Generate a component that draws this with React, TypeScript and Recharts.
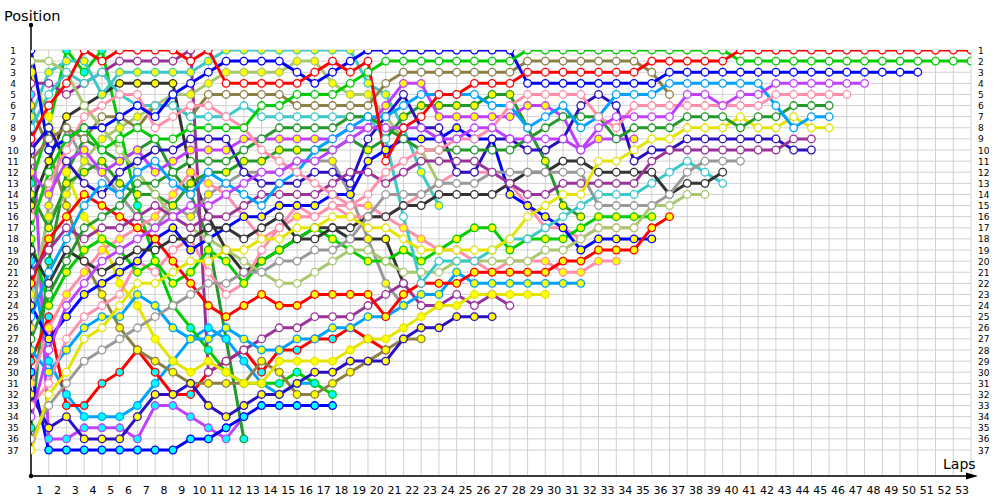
import { CartesianGrid, Line, LineChart, XAxis, YAxis } from 'recharts'

const LAP_TICKS = [
  1, 2, 3, 4, 5, 6, 7, 8, 9, 10, 11, 12, 13, 14, 15, 16, 17, 18, 19, 20, 21, 22, 23, 24, 25, 26, 27,
  28, 29, 30, 31, 32, 33, 34, 35, 36, 37, 38, 39, 40, 41, 42, 43, 44, 45, 46, 47, 48, 49, 50, 51, 52, 53,
]
const POS_TICKS = [
  1, 2, 3, 4, 5, 6, 7, 8, 9, 10, 11, 12, 13, 14, 15, 16, 17, 18, 19, 20, 21, 22, 23, 24, 25, 26, 27,
  28, 29, 30, 31, 32, 33, 34, 35, 36, 37,
]

// position per lap, index 0 = grid position; array ends on the last lap completed
const bluW = [1, 10, 9, 8, 8, 7, 6, 7, 5, 4, 3, 2, 2, 2, 2, 3, 4, 3, 2, 1, 1, 1, 1, 1, 1, 1, 1, 1, 4, 4, 4, 4, 4, 4, 4, 4, 3, 3, 3, 3, 3, 3, 3, 3, 3, 3, 3, 3, 3, 3, 3]
const redW = [9, 6, 4, 1, 2, 1, 1, 1, 1, 2, 1, 4, 4, 4, 4, 4, 3, 2, 3, 2, 11, 8, 7, 5, 5, 4, 4, 4, 3, 3, 3, 3, 3, 3, 3, 2, 2, 2, 2, 2, 1, 1, 1, 1, 1, 1, 1, 1, 1, 1, 1, 1, 1, 1]
const grnW = [17, 12, 9, 8, 10, 9, 8, 9, 9, 8, 8, 8, 8, 6, 6, 5, 5, 5, 4, 3, 2, 2, 2, 2, 2, 2, 2, 2, 1, 1, 1, 1, 1, 1, 1, 1, 1, 1, 1, 1, 2, 2, 2, 2, 2, 2, 2, 2, 2, 2, 2, 2, 2, 2]
const vioW = [34, 28, 24, 22, 20, 19, 18, 17, 16, 15, 15, 14, 13, 12, 12, 11, 11, 10, 9, 8, 8, 8, 8, 9, 9, 8, 8, 9, 9, 9, 9, 10, 8, 7, 7, 7, 7, 5, 5, 6, 5, 5, 4, 4, 4, 4, 4, 4]
const vioY = [12, 14, 11, 10, 12, 11, 10, 12, 11, 10, 10, 10, 9, 9, 9, 9, 9, 9, 8, 8, 6, 4, 4, 7, 7, 7, 7, 7, 6, 6, 7, 10, 9, 9, 9]
const skyW = [25, 21, 18, 15, 13, 14, 12, 11, 13, 14, 12, 13, 14, 15, 13, 12, 10, 9, 8, 7, 7, 6, 5, 5, 5, 5, 6, 6, 8, 7, 6, 8, 7, 5, 5, 5, 4, 4, 4, 4, 4, 4, 6, 8, 7, 7]
const pnkW = [16, 13, 10, 7, 6, 5, 5, 8, 7, 6, 6, 7, 8, 10, 11, 12, 13, 14, 15, 14, 12, 11, 10, 10, 9, 9, 8, 6, 5, 5, 5, 5, 7, 8, 6, 6, 6, 6, 6, 6, 6, 6, 5, 5, 5, 5, 5]
const dgrW = [27, 23, 20, 17, 16, 15, 13, 13, 12, 11, 11, 11, 10, 9, 8, 8, 8, 8, 7, 7, 8, 9, 10, 10, 10, 10, 10, 10, 9, 8, 7, 7, 7, 9, 8, 8, 8, 7, 7, 7, 8, 7, 7, 6, 6, 6]
const dgrY = [14, 17, 13, 12, 11, 13, 14, 14, 15, 13, 12, 12, 11, 11, 10, 10, 10, 10, 9, 10, 9, 7, 6, 6, 6, 6, 5, 5, 8, 11, 15, 16]
const yelW = [37, 32, 30, 27, 26, 24, 22, 22, 21, 20, 20, 19, 19, 18, 18, 17, 17, 16, 16, 17, 17, 18, 19, 19, 19, 19, 19, 18, 16, 15, 14, 14, 11, 11, 10, 9, 9, 8, 8, 8, 7, 8, 8, 7, 8, 8]
const navW = [10, 8, 11, 13, 14, 12, 11, 10, 10, 9, 9, 9, 12, 13, 13, 13, 12, 12, 13, 9, 7, 5, 8, 8, 12, 12, 9, 9, 10, 10, 9, 6, 5, 6, 11, 10, 10, 9, 9, 9, 9, 9, 9, 10, 10]
const purW = [4, 4, 5, 4, 3, 2, 2, 2, 2, 1, 30, 29, 28, 27, 26, 26, 25, 25, 25, 24, 23, 22, 24, 24, 23, 24, 23, 24]
const purW2 = [21, 19, 17, 18, 17, 17, 16, 15, 16, 17, 16, 16, 15, 14, 14, 14, 14, 13, 12, 12, 13, 12, 11, 11, 11, 11, 12, 13, 14, 14, 13, 13, 13, 13, 13, 11, 10, 10, 10, 10, 10, 10, 10, 9, 9]
const gryW = [36, 33, 31, 29, 28, 27, 26, 25, 24, 23, 22, 22, 21, 21, 20, 20, 19, 19, 18, 16, 14, 14, 14, 13, 13, 13, 12, 12, 12, 12, 12, 12, 15, 15, 15, 15, 14, 12, 11, 11, 11]
const blkW = [19, 22, 19, 20, 21, 20, 19, 19, 18, 18, 17, 17, 18, 17, 16, 18, 18, 17, 17, 16, 16, 15, 15, 14, 14, 14, 14, 13, 12, 12, 11, 11, 12, 12, 12, 12, 14, 13, 13, 12]
const trqW = [8, 5, 3, 4, 3, 5, 6, 6, 6, 7, 7, 7, 6, 7, 7, 7, 7, 7, 7, 7, 9, 16, 22, 20, 20, 20, 19, 18, 18, 17, 16, 15, 14, 14, 14, 13, 12, 11, 12, 13]
const trqY = [7, 3, 2, 2, 5, 3, 3, 3, 3, 3, 2, 1, 1, 1, 1, 1, 1, 1, 1, 4, 5, 8, 12, 15]
const lgrW = [2, 2, 3, 6, 8, 10, 12, 14, 16, 17, 18, 19, 20, 21, 22, 22, 21, 20, 19, 19, 20, 21, 21, 21, 20, 20, 20, 20, 20, 19, 19, 18, 17, 17, 17, 15, 15, 14, 14]
const lgrY = [23, 16, 14, 11, 9, 8, 7, 6, 5, 5, 4, 3, 3, 3, 3, 2, 2, 4, 5, 5, 7, 9, 10, 13]
const olvW = [11, 9, 8, 9, 7, 7, 8, 6, 6, 7, 5, 5, 5, 5, 5, 6, 6, 6, 6, 6, 4, 3, 3, 3, 3, 3, 3, 3, 2, 2, 2, 2, 2, 2, 2, 3, 5]
const grnY = [18, 24, 21, 19, 18, 19, 21, 20, 22, 21, 19, 20, 22, 20, 19, 18, 17, 18, 19, 20, 20, 19, 20, 19, 18, 17, 17, 19, 18, 18, 18, 17, 16, 16, 16, 16]
const bluY = [24, 27, 25, 23, 22, 21, 20, 18, 17, 19, 18, 17, 16, 16, 15, 15, 15, 14, 14, 11, 10, 9, 9, 9, 8, 9, 9, 14, 15, 16, 17, 19, 18, 18, 18, 18]
const redY = [22, 18, 16, 14, 15, 16, 17, 18, 20, 22, 24, 25, 24, 23, 24, 24, 23, 23, 23, 23, 25, 23, 22, 22, 22, 21, 21, 21, 21, 21, 20, 20, 19, 19, 19, 17, 16]
const pnkY = [31, 26, 23, 21, 19, 18, 17, 16, 14, 12, 13, 14, 16, 18, 17, 16, 16, 15, 15, 15, 16, 17, 18, 19, 19, 20, 21, 20, 20, 20, 21, 21, 20, 20]
const skyY = [28, 30, 28, 26, 25, 25, 23, 24, 26, 27, 27, 26, 27, 28, 28, 27, 27, 26, 26, 25, 25, 24, 23, 23, 21, 22, 22, 22, 22, 22, 22, 22]
const yelY = [3, 7, 12, 16, 18, 22, 24, 27, 29, 30, 29, 30, 31, 31, 29, 29, 29, 29, 28, 27, 27, 26, 25, 24, 24, 23, 23, 23, 23, 23]
const navY = [32, 35, 34, 36, 36, 36, 34, 32, 32, 31, 33, 34, 33, 32, 32, 31, 30, 30, 29, 29, 29, 27, 26, 26, 25, 25, 25]
const blkY = [15, 11, 7, 6, 5, 4, 4, 4, 4, 12, 16, 19, 21, 20, 19, 18, 17, 17, 18, 18, 18, 22]
const bluC = [30, 37, 37, 37, 37, 37, 37, 37, 37, 36, 36, 35, 34, 33, 33, 33, 33, 33]
const vioC = [5, 36, 36, 35, 35, 35, 36, 33, 33, 34, 35, 36, 34]
const grnC = [13, 8, 1, 3, 1, 8, 15, 20, 24, 26, 28, 30, 31, 31, 31, 30, 31, 32]
const dgrC = [35, 20, 12, 9, 10, 11, 10, 9, 12, 14, 18, 27, 36]
const olvY = [6, 10, 15, 20, 23, 26, 28, 29, 30, 31, 31, 31, 31, 29, 30, 32, 32, 31, 30, 29, 28, 27, 27]
const redC = [29, 25, 33, 33, 31, 30, 28, 30, 32, 32, 30, 29, 28, 30, 28, 28, 27, 27, 26, 27, 28]
const skyC = [20, 29, 32, 34, 34, 34, 33, 31, 29, 27, 26, 27, 29, 31, 32, 31, 31]
const gryY = [26, 15, 8, 11, 12, 14, 16, 17, 15, 16, 14, 13, 12, 12, 12, 11, 11, 11, 14, 18, 22, 24]
const pnkW2 = [33, 31, 27, 25, 24, 23, 20, 21, 19, 18, 21, 23, 22, 19, 17, 15, 16, 15, 16, 16, 16, 15, 14, 13, 12, 12, 12, 13, 15, 17, 17, 18, 17, 17, 17]

const C = {
  red: '#ff0000',
  green: '#00cc00',
  blue: '#0000ff',
  navy: '#2a10c0',
  violet: '#c040ff',
  purple: '#993399',
  olive: '#8c8048',
  pink: '#ff8fab',
  sky: '#00a2ff',
  teal: '#3cc8c8',
  yellow: '#e4e400',
  pale: '#a8c870',
  dgreen: '#22992a',
  black: '#333333',
  gray: '#999999',
}
const W = '#ffffff'
const Y = '#ffff00'
const CY = '#00ffff'

// drawn back to front
const SERIES = [
  { key: 'vioC', color: C.violet, fill: CY, data: vioC },
  { key: 'dgrC', color: C.dgreen, fill: CY, data: dgrC },
  { key: 'skyC', color: C.sky, fill: CY, data: skyC },
  { key: 'bluC', color: C.blue, fill: CY, data: bluC },
  { key: 'grnC', color: C.green, fill: CY, data: grnC },
  { key: 'redC', color: C.red, fill: CY, data: redC },
  { key: 'olvY', color: C.olive, fill: Y, data: olvY },
  { key: 'blkY', color: C.black, fill: Y, data: blkY },
  { key: 'gryY', color: C.gray, fill: Y, data: gryY },
  { key: 'trqY', color: C.teal, fill: Y, data: trqY },
  { key: 'lgrY', color: C.pale, fill: Y, data: lgrY },
  { key: 'navY', color: C.navy, fill: Y, data: navY },
  { key: 'purW', color: C.purple, fill: W, data: purW },
  { key: 'yelY', color: C.yellow, fill: Y, data: yelY },
  { key: 'skyY', color: C.sky, fill: Y, data: skyY },
  { key: 'pnkY', color: C.pink, fill: Y, data: pnkY },
  { key: 'dgrY', color: C.dgreen, fill: Y, data: dgrY },
  { key: 'vioY', color: C.violet, fill: Y, data: vioY },
  { key: 'pnkW2', color: C.pink, fill: W, data: pnkW2 },
  { key: 'grnY', color: C.green, fill: Y, data: grnY },
  { key: 'bluY', color: C.blue, fill: Y, data: bluY },
  { key: 'redY', color: C.red, fill: Y, data: redY },
  { key: 'olvW', color: C.olive, fill: W, data: olvW },
  { key: 'lgrW', color: C.pale, fill: W, data: lgrW },
  { key: 'trqW', color: C.teal, fill: W, data: trqW },
  { key: 'blkW', color: C.black, fill: W, data: blkW },
  { key: 'gryW', color: C.gray, fill: W, data: gryW },
  { key: 'navW', color: C.navy, fill: W, data: navW },
  { key: 'purW2', color: C.purple, fill: W, data: purW2 },
  { key: 'yelW', color: C.yellow, fill: W, data: yelW },
  { key: 'dgrW', color: C.dgreen, fill: W, data: dgrW },
  { key: 'skyW', color: C.sky, fill: W, data: skyW },
  { key: 'pnkW', color: C.pink, fill: W, data: pnkW },
  { key: 'vioW', color: C.violet, fill: W, data: vioW },
  { key: 'bluW', color: C.blue, fill: W, data: bluW },
  { key: 'grnW', color: C.green, fill: W, data: grnW },
  { key: 'redW', color: C.red, fill: W, data: redW },
]

const rows = [0, ...LAP_TICKS].map((lap) => {
  const row: Record<string, number | undefined> = { lap }
  SERIES.forEach((s) => {
    row[s.key] = s.data[lap]
  })
  return row
})

const FONT = '"DejaVu Sans", Verdana, sans-serif'
const PLOT_LEFT = 31
const PLOT_RIGHT = 971
const HALF_STEP = (PLOT_RIGHT - PLOT_LEFT) / LAP_TICKS.length / 2
const Y_MAX = 1 + 426 / (400 / 36)

function LapTick({ x, y, payload }: any) {
  return (
    <text x={x - HALF_STEP} y={y + 16} textAnchor="middle" fontSize={11} fontFamily={FONT} fill="#000">
      {payload.value}
    </text>
  )
}

function LeftTick({ x, y, payload }: any) {
  return (
    <text x={x - 16} y={y + 3.5} textAnchor="middle" fontSize={9} fontFamily={FONT} fill="#000">
      {payload.value}
    </text>
  )
}

function RightTick({ x, y, payload }: any) {
  return (
    <text x={x + 5} y={y + 3.5} textAnchor="start" fontSize={9} fontFamily={FONT} fill="#000">
      {payload.value}
    </text>
  )
}

export default function App() {
  return (
    <div style={{ position: 'absolute', left: 0, top: 0, width: 1000, height: 500, background: '#fff' }}>
      <LineChart width={1000} height={500} data={rows} margin={{ top: 50, right: 0, bottom: 0, left: 0 }}>
        <CartesianGrid yAxisId="l" stroke="#d0d0d0" strokeWidth={1} />
        <XAxis
          dataKey="lap"
          type="number"
          domain={[0, 53]}
          ticks={LAP_TICKS}
          allowDataOverflow
          height={24}
          tickSize={0}
          tickLine={false}
          axisLine={{ stroke: '#000', strokeWidth: 1.5 }}
          tick={<LapTick />}
          interval={0}
        />
        <YAxis
          yAxisId="l"
          type="number"
          reversed
          domain={[1, Y_MAX]}
          ticks={POS_TICKS}
          allowDataOverflow
          width={31}
          tickSize={0}
          tickLine={false}
          axisLine={{ stroke: '#000', strokeWidth: 1.5 }}
          tick={<LeftTick />}
          interval={0}
        />
        <YAxis
          yAxisId="r"
          orientation="right"
          type="number"
          reversed
          domain={[1, Y_MAX]}
          ticks={POS_TICKS}
          allowDataOverflow
          width={29}
          tickSize={0}
          tickLine={false}
          axisLine={false}
          tick={<RightTick />}
          interval={0}
        />
        {SERIES.map((s) => (
          <Line
            key={s.key}
            yAxisId="l"
            dataKey={s.key}
            type="linear"
            stroke={s.color}
            strokeWidth={3}
            dot={{ r: 3.8, fill: s.fill, stroke: s.color, strokeWidth: 1.3 }}
            activeDot={false}
            isAnimationActive={false}
          />
        ))}
      </LineChart>
      <svg
        width={1000}
        height={500}
        style={{ position: 'absolute', left: 0, top: 0, pointerEvents: 'none' }}
      >
        <line x1={PLOT_LEFT} y1={25} x2={PLOT_LEFT} y2={50} stroke="#000" strokeWidth={1.5} />
        <circle cx={PLOT_LEFT} cy={25} r={2.2} fill="#000" />
        <circle cx={PLOT_LEFT} cy={476} r={2.2} fill="#000" />
        <line x1={PLOT_RIGHT} y1={476} x2={968} y2={476} stroke="#000" strokeWidth={1.5} />
        <polygon points="966,472.5 978,476 966,479.5" fill="#000" />
        <text x={4} y={21} fontSize={14.5} fontFamily={FONT} fill="#000">
          Position
        </text>
        <text x={943} y={469} fontSize={14} fontFamily={FONT} fill="#000">
          Laps
        </text>
      </svg>
    </div>
  )
}
